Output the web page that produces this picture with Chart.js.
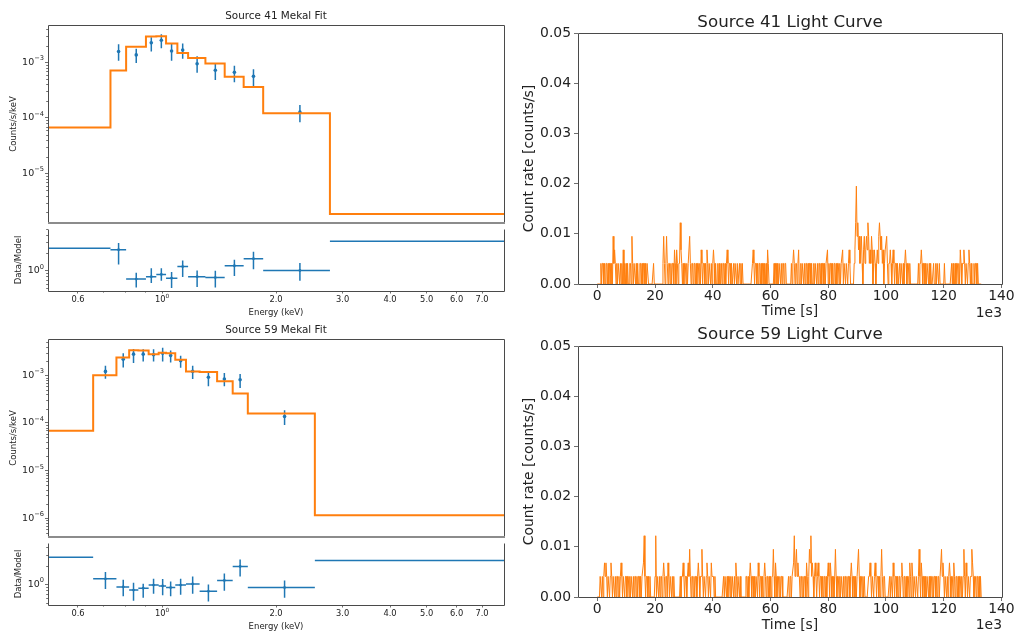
<!DOCTYPE html>
<html>
<head>
<meta charset="utf-8">
<script src="https://cdn.jsdelivr.net/npm/chart.js@4.4.1/dist/chart.umd.min.js"></script>
<style>
  html, body { margin: 0; padding: 0; background: #fff; }
  #fig { position: relative; width: 1015px; height: 635px; overflow: hidden; background: #fff; }
  #fig canvas { position: absolute; }
</style>
</head>
<body>
<div id="fig"></div>
<script>
// ---------------- Source 41 spectrum (Mekal fit) ----------------
const s41Edges = [0.5, 0.731, 0.804, 0.907, 0.966, 1.025, 1.098, 1.172, 1.302, 1.464, 1.643, 1.850, 2.776, 8.0];
const s41Model = [6.7e-5, 7.1e-4, 1.9e-3, 2.9e-3, 2.95e-3, 2.18e-3, 1.47e-3, 1.2e-3, 9.5e-4, 5.5e-4, 3.6e-4, 1.22e-4, 1.87e-6];
const s41E      = [0.768, 0.855, 0.937, 0.996, 1.060, 1.134, 1.238, 1.383, 1.553, 1.744, 2.313];
const s41Rate   = [1.57e-3, 1.36e-3, 2.24e-3, 2.5e-3, 1.6e-3, 1.66e-3, 9.4e-4, 7.2e-4, 6.6e-4, 5.6e-4, 1.27e-4];
const s41RateHi = [2.12e-3, 1.75e-3, 2.83e-3, 3.2e-3, 2.21e-3, 2.18e-3, 1.28e-3, 9.75e-4, 8.7e-4, 7.5e-4, 1.7e-4];
const s41RateLo = [1.07e-3, 9.75e-4, 1.57e-3, 1.8e-3, 1.07e-3, 1.16e-3, 6.5e-4, 4.8e-4, 4.4e-4, 3.74e-4, 8.4e-5];
const s41Ratio   = [2.26, 0.719, 0.792, 0.863, 0.746, 1.17, 0.792, 0.764, 1.21, 1.59, 1.01];
const s41RatioHi = [2.92, 0.917, 1.10, 1.10, 0.951, 1.49, 1.01, 1.00, 1.53, 2.08, 1.34];
const s41RatioLo = [1.27, 0.517, 0.621, 0.676, 0.511, 0.783, 0.530, 0.517, 0.812, 1.06, 0.676];
const s41RatioOuter = [2.40, 3.14];          // first and last energy bins
const s41YTicks  = [1e-5, 1e-4, 1e-3];
const s41YLabels = ['10^-5', '10^-4', '10^-3'];

// ---------------- Source 59 spectrum (Mekal fit) ----------------
const s59Edges = [0.5, 0.658, 0.758, 0.819, 0.866, 0.922, 0.980, 1.025, 1.084, 1.157, 1.257, 1.398, 1.537, 1.685, 2.533, 8.0];
const s59Model = [6.85e-5, 1.0e-3, 2.37e-3, 3.37e-3, 3.33e-3, 2.79e-3, 3.0e-3, 2.92e-3, 2.12e-3, 1.21e-3, 1.18e-3, 7.5e-4, 4.17e-4, 1.58e-4, 1.15e-6];
const s59E      = [0.709, 0.790, 0.841, 0.892, 0.950, 1.004, 1.054, 1.120, 1.205, 1.326, 1.461, 1.608, 2.107];
const s59Rate   = [1.21e-3, 2.19e-3, 2.79e-3, 2.79e-3, 2.7e-3, 2.92e-3, 2.6e-3, 2.02e-3, 1.21e-3, 9.1e-4, 8.4e-4, 8.1e-4, 1.37e-4];
const s59RateHi = [1.59e-3, 2.92e-3, 3.59e-3, 3.54e-3, 3.54e-3, 3.82e-3, 3.31e-3, 2.57e-3, 1.59e-3, 1.19e-3, 1.12e-3, 1.07e-3, 1.85e-4];
const s59RateLo = [8.5e-4, 1.47e-3, 1.81e-3, 1.95e-3, 1.95e-3, 1.95e-3, 1.86e-3, 1.45e-3, 8.4e-4, 5.9e-4, 5.9e-4, 5.4e-4, 9.1e-5];
const s59Ratio   = [1.23, 0.910, 0.810, 0.869, 0.976, 0.942, 0.889, 0.976, 1.02, 0.773, 1.16, 1.96, 0.889];
const s59RatioHi = [1.59, 1.19, 1.06, 1.03, 1.23, 1.22, 1.12, 1.23, 1.34, 1.00, 1.50, 2.53, 1.16];
const s59RatioLo = [0.839, 0.642, 0.545, 0.606, 0.705, 0.665, 0.642, 0.681, 0.705, 0.527, 0.792, 1.34, 0.606];
const s59RatioOuter = [2.75, 2.45];
const s59YTicks  = [1e-6, 1e-5, 1e-4, 1e-3];
const s59YLabels = ['10^-6', '10^-5', '10^-4', '10^-3'];

// shared energy axis / ratio axis ticks ('^' marks an exponent)
const energyTicks  = [0.6, 1, 2, 3, 4, 5, 6, 7];
const energyLabels = ['0.6', '10^0', '2.0', '3.0', '4.0', '5.0', '6.0', '7.0'];
const energyMinor  = [0.7, 0.8, 0.9];
const ratioTicks  = [1];
const ratioLabels = ['10^0'];

// ---------------- light curves (250 s bins, one digit = one bin's rate level) ----------------
const lcBinSeconds = 250;
const lcRateLevels = [0, 0.0041, 0.0068, 0.0095, 0.0122, 0.0150, 0.0177, 0.0195];
const lc41Levels = [
  "0000010110101101011010312101011010102010", // 0-10 ks
  "1010011031011010100110101101011000000010", // 10-20 ks
  "0000000000013101310110101102102101142101", // 20-30 ks
  "0110101131011011010110102101101021011010", // 30-40 ks
  "1210100101001011010121011010010110100101", // 40-50 ks
  "0100000000000001210110101101011010102100", // 50-60 ks
  "0000010110101101011011000000010121011012", // 60-70 ks
  "0010110101101011010010110101101011010112", // 70-80 ks
  "0101101011010110101120110110121000001247", // 80-90 ks
  "3423123102312324312132012101213432312012", // 90-100 ks
  "2310112101210110100101101012101101000000", // 100-110 ks
  "0000010112101101011010100010010110100000", // 110-120 ks
  "0100000000010100101101021011210110121010", // 120-130 ks
  "00101101000000"                            // 130-133.5 ks
];
const lc59Levels = [
  "0000110101212101101210110101101012101101",
  "1011010110101101011010112410110101000000",
  "1401101011012101102101101010000000010112",
  "1011012131011010110121011310110121011021",
  "1101000000000001011010110101101021011010",
  "0000001101012101101011021011010121011010",
  "1011310210110101100000000101101124123121",
  "1011010110210132412101210121011010110101",
  "2102101101310110101101011010110121011010",
  "1131011010100000112101101210110101310110",
  "0000010110210110101101210110101102102101",
  "1011013102101101011010110101101011011312",
  "1011010121011021011010110101310210110113",
  "21011011010100"
];
const lcTimeTicks  = [0, 20000, 40000, 60000, 80000, 100000, 120000, 140000];
const lcTimeLabels = ['0', '20', '40', '60', '80', '100', '120', '140'];
const lcRateTicks  = [0, 0.01, 0.02, 0.03, 0.04, 0.05];
const lcRateLabels = ['0.00', '0.01', '0.02', '0.03', '0.04', '0.05'];

// ---------------- drawing helpers ----------------
const FONT = "'DejaVu Sans', 'Liberation Sans', sans-serif";
const INK = '#222222';
const SPINE = '#4a4a4a';
const BLUE = '#1f77b4';
const ORANGE = '#ff7f0e';
const fig = document.getElementById('fig');

function makeCanvas(left, top, width, height) {
  const c = document.createElement('canvas');
  c.width = width; c.height = height;
  c.style.left = left + 'px'; c.style.top = top + 'px';
  c.style.width = width + 'px'; c.style.height = height + 'px';
  fig.appendChild(c);
  return c;
}

function logMinors(lo, hi) {
  const out = [];
  for (let e = Math.floor(Math.log10(lo)); e <= Math.ceil(Math.log10(hi)); e++) {
    for (let k = 2; k <= 9; k++) {
      const v = k * Math.pow(10, e);
      if (v > lo && v < hi) out.push(v);
    }
  }
  return out;
}

// tick label with an optional raised exponent, e.g. "10^-3"
function drawPowerLabel(ctx, text, x, y, size, align) {
  const parts = text.split('^');
  const base = parts[0];
  const exp = parts.length > 1 ? parts[1].replace('-', '\u2212') : '';
  const es = size * 0.7;
  ctx.font = size + 'px ' + FONT;
  const wb = ctx.measureText(base).width;
  let we = 0;
  if (exp) { ctx.font = es + 'px ' + FONT; we = ctx.measureText(exp).width; }
  const w = wb + we;
  const x0 = align === 'right' ? x - w : (align === 'center' ? x - w / 2 : x);
  ctx.textAlign = 'left'; ctx.textBaseline = 'middle';
  ctx.font = size + 'px ' + FONT;
  ctx.fillText(base, x0, y);
  if (exp) { ctx.font = es + 'px ' + FONT; ctx.fillText(exp, x0 + wb, y - size * 0.4); }
}

// frame, minor ticks, tick labels, title and offset text for one panel
function panelPlugin(p) {
  return {
    id: 'panel',
    afterDraw(chart) {
      const { ctx, chartArea: a } = chart;
      ctx.save();
      (p.minor || []).forEach(m => {
        const s = chart.scales[m.axis];
        ctx.strokeStyle = SPINE; ctx.lineWidth = 0.8;
        ctx.beginPath();
        m.values.forEach(v => {
          if (v <= s.min || v >= s.max) return;
          const q = Math.round(s.getPixelForValue(v)) + 0.5;
          if (s.isHorizontal()) { ctx.moveTo(q, a.bottom); ctx.lineTo(q, a.bottom + m.len); }
          else { ctx.moveTo(a.left, q); ctx.lineTo(a.left - m.len, q); }
        });
        ctx.stroke();
      });
      const L = a.left + 0.5, R = a.right + 0.5, T = a.top + 0.5, B = a.bottom + 0.5;
      ctx.strokeStyle = SPINE; ctx.lineWidth = 1;
      ctx.beginPath();
      ctx.moveTo(L, B); ctx.lineTo(L, T);
      ctx.moveTo(R, B); ctx.lineTo(R, T);
      if (!p.noTop) { ctx.moveTo(L, T); ctx.lineTo(R, T); }
      if (!p.divider) { ctx.moveTo(L, B); ctx.lineTo(R, B); }
      ctx.stroke();
      if (p.divider) {
        ctx.strokeStyle = '#8c8c8c'; ctx.lineWidth = 2;
        ctx.beginPath(); ctx.moveTo(a.left, a.bottom); ctx.lineTo(a.right + 1, a.bottom); ctx.stroke();
      }
      ctx.fillStyle = INK;
      (p.labels || []).forEach(lb => {
        const s = chart.scales[lb.axis];
        lb.values.forEach((v, i) => {
          const q = s.getPixelForValue(v);
          if (s.isHorizontal()) drawPowerLabel(ctx, lb.texts[i], q, a.bottom + lb.offset, lb.size, 'center');
          else drawPowerLabel(ctx, lb.texts[i], a.left - lb.offset, q, lb.size, 'right');
        });
      });
      if (p.title) {
        ctx.font = p.title.size + 'px ' + FONT;
        ctx.textAlign = 'center'; ctx.textBaseline = 'middle';
        ctx.fillText(p.title.text, (a.left + a.right) / 2, p.title.y);
      }
      if (p.offsetText) {
        ctx.font = p.offsetText.size + 'px ' + FONT;
        ctx.textAlign = 'right'; ctx.textBaseline = 'middle';
        ctx.fillText(p.offsetText.text, a.right, p.offsetText.y);
      }
      ctx.restore();
    }
  };
}

function fixWidth(w) { return s => { s.width = w; s.paddingTop = 0; s.paddingBottom = 0; }; }
function fixHeight(h) { return s => { s.height = h; s.paddingLeft = 0; s.paddingRight = 0; }; }
function setTicks(vals) { return s => { s.ticks = vals.map(v => ({ value: v })); }; }
function labelFrom(vals, labels) { return v => { const i = vals.indexOf(v); return i < 0 ? '' : labels[i]; }; }
const blankLabel = () => '';

const tickGrid = len => ({ display: true, drawOnChartArea: false, drawTicks: true, tickLength: len, tickColor: SPINE, tickWidth: 0.8 });

function baseOptions(padding) {
  return {
    responsive: false, animation: false, devicePixelRatio: 1, events: [],
    layout: { padding },
    plugins: { legend: { display: false }, tooltip: { enabled: false }, title: { display: false } }
  };
}

function stepData(edges, model) {
  return edges.map((e, i) => ({ x: e, y: model[Math.min(i, model.length - 1)] }));
}
function vBars(xs, lo, hi) {
  const d = [];
  xs.forEach((x, i) => { d.push({ x, y: lo[i] }, { x, y: hi[i] }, { x, y: null }); });
  return d;
}
function ratioHBars(edges, ratio, outer) {
  const n = edges.length - 1;
  const d = [];
  d.push({ x: edges[0], y: outer[0] }, { x: edges[1], y: outer[0] }, { x: edges[1], y: null });
  ratio.forEach((r, j) => { d.push({ x: edges[j + 1], y: r }, { x: edges[j + 2], y: r }, { x: edges[j + 2], y: null }); });
  d.push({ x: edges[n - 1], y: outer[1] }, { x: edges[n], y: outer[1] });
  return d;
}

// upper spectral panel: folded model and data points
function spectrumPanel(canvas, o) {
  const opts = baseOptions({ top: o.padTop, right: 6, bottom: 2, left: 0 });
  opts.scales = {
    x: { type: 'logarithmic', min: 0.5, max: 8.0, display: false },
    y: {
      type: 'logarithmic', min: o.yMin, max: o.yMax,
      afterBuildTicks: setTicks(o.yTicks),
      afterFit: fixWidth(48),
      ticks: { callback: blankLabel, font: { family: FONT, size: 9 }, padding: 1, autoSkip: false },
      grid: tickGrid(3), border: { display: false },
      title: { display: true, text: 'Counts/s/keV', color: INK, font: { family: FONT, size: 8.5 }, padding: { top: 8.4, bottom: 0 } }
    }
  };
  return new Chart(canvas, {
    type: 'scatter',
    data: { datasets: [
      { type: 'line', data: stepData(o.edges, o.model), stepped: 'before', borderColor: ORANGE, borderWidth: 2, pointRadius: 0, fill: false },
      { type: 'line', data: vBars(o.E, o.lo, o.hi), borderColor: BLUE, borderWidth: 1.5, pointRadius: 0, fill: false, spanGaps: false },
      { type: 'scatter', data: o.E.map((e, i) => ({ x: e, y: o.rate[i] })), pointRadius: 1.8, pointBackgroundColor: BLUE, pointBorderWidth: 0 }
    ] },
    options: opts,
    plugins: [panelPlugin({
      divider: true, title: o.title,
      minor: [{ axis: 'y', values: logMinors(o.yMin, o.yMax), len: 1.8 }],
      labels: [{ axis: 'y', values: o.yTicks, texts: o.yLabels, size: 9.5, offset: 4 }]
    })]
  });
}

// lower spectral panel: data / model ratio
function ratioPanel(canvas, o) {
  const opts = baseOptions({ top: 0, right: 6, bottom: 0, left: 0 });
  opts.scales = {
    x: {
      type: 'logarithmic', min: 0.5, max: 8.0,
      afterBuildTicks: setTicks(energyTicks),
      afterFit: fixHeight(o.xBox),
      ticks: { callback: blankLabel, font: { family: FONT, size: 8.3 }, padding: 1.2, autoSkip: false, maxRotation: 0 },
      grid: tickGrid(2.5), border: { display: false },
      title: { display: true, text: 'Energy (keV)', color: INK, font: { family: FONT, size: 8.5 }, padding: { top: 0, bottom: o.xTitlePad } }
    },
    y: {
      type: 'logarithmic', min: o.yMin, max: o.yMax,
      afterBuildTicks: setTicks(ratioTicks),
      afterFit: fixWidth(48),
      ticks: { callback: blankLabel, font: { family: FONT, size: 9 }, padding: 1, autoSkip: false },
      grid: tickGrid(3), border: { display: false },
      title: { display: true, text: 'Data/Model', color: INK, font: { family: FONT, size: 8.5 }, padding: { top: 13.9, bottom: 0 } }
    }
  };
  return new Chart(canvas, {
    type: 'scatter',
    data: { datasets: [
      { type: 'line', data: ratioHBars(o.edges, o.ratio, o.outer), borderColor: BLUE, borderWidth: 1.5, pointRadius: 0, fill: false, spanGaps: false },
      { type: 'line', data: vBars(o.E, o.lo, o.hi), borderColor: BLUE, borderWidth: 1.5, pointRadius: 0, fill: false, spanGaps: false },
      { type: 'scatter', data: o.E.map((e, i) => ({ x: e, y: o.ratio[i] })), pointRadius: 1.4, pointBackgroundColor: BLUE, pointBorderWidth: 0 }
    ] },
    options: opts,
    plugins: [panelPlugin({
      noTop: true,
      minor: [
        { axis: 'y', values: logMinors(o.yMin, o.yMax), len: 1.8 },
        { axis: 'x', values: energyMinor, len: 1.6 }
      ],
      labels: [
        { axis: 'y', values: ratioTicks, texts: ratioLabels, size: 9.5, offset: 4 },
        { axis: 'x', values: energyTicks, texts: energyLabels, size: 8.3, offset: 8.9 }
      ]
    })]
  });
}

// light curve panel
function lightCurvePanel(canvas, o) {
  const series = o.levels.join('').split('').map((d, i) => ({ x: i * lcBinSeconds, y: lcRateLevels[Number(d)] }));
  const opts = baseOptions({ top: o.padTop, right: 13, bottom: 0, left: 0 });
  opts.scales = {
    x: {
      type: 'linear', min: -6680, max: 140200,
      afterBuildTicks: setTicks(lcTimeTicks),
      afterFit: fixHeight(o.xBox),
      ticks: { callback: labelFrom(lcTimeTicks, lcTimeLabels), color: INK, font: { family: FONT, size: 13.9 }, padding: 0, autoSkip: false, maxRotation: 0 },
      grid: tickGrid(4), border: { display: false },
      title: { display: true, text: 'Time [s]', color: INK, font: { family: FONT, size: 13.9 }, padding: { top: 0, bottom: o.xTitlePad } }
    },
    y: {
      type: 'linear', min: 0, max: 0.05,
      afterBuildTicks: setTicks(lcRateTicks),
      afterFit: fixWidth(68),
      ticks: { callback: labelFrom(lcRateTicks, lcRateLabels), color: INK, font: { family: FONT, size: 13.9 }, padding: 3, autoSkip: false },
      grid: tickGrid(4), border: { display: false },
      title: { display: true, text: 'Count rate [counts/s]', color: INK, font: { family: FONT, size: 13.9 }, padding: { top: 10.7, bottom: 0 } }
    }
  };
  return new Chart(canvas, {
    type: 'line',
    data: { datasets: [
      { data: series, borderColor: ORANGE, borderWidth: 1, pointRadius: 0, fill: false, tension: 0 }
    ] },
    options: opts,
    plugins: [panelPlugin({ title: o.title, offsetText: { text: '1e3', y: o.offsetY, size: 13.9 } })]
  });
}

// ---------------- layout ----------------
spectrumPanel(makeCanvas(0, 0, 510, 227), {
  padTop: 25, edges: s41Edges, model: s41Model, E: s41E, rate: s41Rate, hi: s41RateHi, lo: s41RateLo,
  yMin: 1.29e-6, yMax: 4.69e-3, yTicks: s41YTicks, yLabels: s41YLabels,
  title: { text: 'Source 41 Mekal Fit', y: 16, size: 10.4 }
});
ratioPanel(makeCanvas(0, 225, 510, 95), {
  edges: s41Edges, E: s41E, ratio: s41Ratio, hi: s41RatioHi, lo: s41RatioLo, outer: s41RatioOuter,
  yMin: 0.453, yMax: 5.05, xBox: 29, xTitlePad: 2
});
spectrumPanel(makeCanvas(0, 320, 510, 221), {
  padTop: 19, edges: s59Edges, model: s59Model, E: s59E, rate: s59Rate, hi: s59RateHi, lo: s59RateLo,
  yMin: 4.03e-7, yMax: 5.8e-3, yTicks: s59YTicks, yLabels: s59YLabels,
  title: { text: 'Source 59 Mekal Fit', y: 10, size: 10.4 }
});
ratioPanel(makeCanvas(0, 539, 510, 96), {
  edges: s59Edges, E: s59E, ratio: s59Ratio, hi: s59RatioHi, lo: s59RatioLo, outer: s59RatioOuter,
  yMin: 0.464, yMax: 4.69, xBox: 30, xTitlePad: 3
});
lightCurvePanel(makeCanvas(510, 0, 505, 320), {
  levels: lc41Levels, padTop: 33, xBox: 36, xTitlePad: 0, offsetY: 313,
  title: { text: 'Source 41 Light Curve', y: 22.3, size: 16.7 }
});
lightCurvePanel(makeCanvas(510, 320, 505, 315), {
  levels: lc59Levels, padTop: 26, xBox: 38, xTitlePad: 1, offsetY: 305.7,
  title: { text: 'Source 59 Light Curve', y: 15, size: 16.7 }
});
</script>
</body>
</html>
